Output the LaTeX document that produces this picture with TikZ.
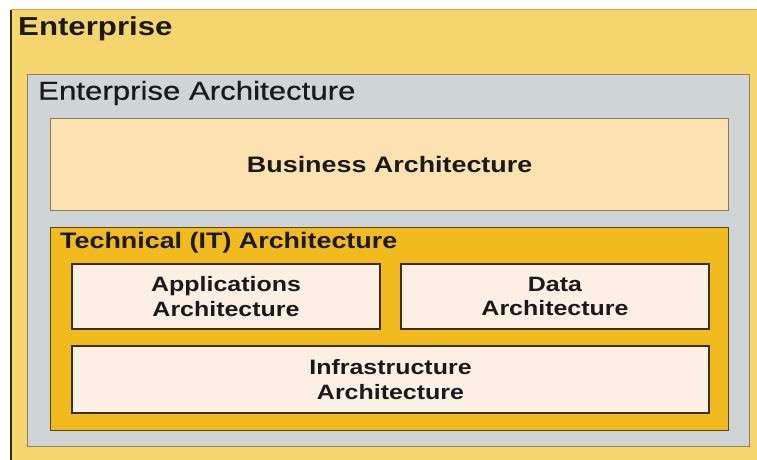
\documentclass[tikz,border=0pt]{standalone}
\usepackage{fontspec}
\newfontfamily\arialw[FakeStretch=1.2]{Liberation Sans}
\newfontfamily\arialm[FakeStretch=1.2,FakeBold=0.6]{Liberation Sans}
\definecolor{entfill}{HTML}{F5D56E}
\definecolor{entedge}{HTML}{C9A94A}
\definecolor{entleft}{HTML}{3A2A10}
\definecolor{eafill}{HTML}{CFD4D7}
\definecolor{eaedge}{HTML}{8C8262}
\definecolor{busfill}{HTML}{FCE2B0}
\definecolor{busedge}{HTML}{8A7A50}
\definecolor{techfill}{HTML}{F1BA1E}
\definecolor{techedge}{HTML}{5A4518}
\definecolor{innerfill}{HTML}{FCEFE4}
\definecolor{inneredge}{HTML}{3E2E14}
\definecolor{txt}{HTML}{1A1A1A}
\tikzset{
  x=1pt, y=-1pt,
  area/.style={rectangle, inner sep=0pt, anchor=north west},
  eabox/.style={area, fill=eafill, draw=eaedge, line width=1.2pt},
  busbox/.style={area, fill=busfill, draw=busedge, line width=1.3pt, font=\arialw\bfseries\fontsize{22.4}{26}\selectfont, text=txt},
  techbox/.style={area, fill=techfill, draw=techedge, line width=1.3pt},
  innerbox/.style={area, fill=innerfill, draw=inneredge, line width=2pt, align=center, font=\arialw\bfseries\fontsize{20.8}{24.5}\selectfont, text=txt},
  title/.style={anchor=west, inner sep=0pt, text=txt},
}
\begin{document}
\begin{tikzpicture}
\useasboundingbox (0,0) rectangle (757,460);
\fill[white] (0,0) rectangle (757,460);
% Enterprise
\node[area, fill=entfill, minimum width=749pt, minimum height=453pt] (ent) at (11,10) {};
\draw[entedge, line width=1pt] (ent.north west) -- (ent.north east);
\draw[entleft, line width=2pt] (ent.north west) -- (ent.south west);
\node[title, font=\arialw\bfseries\fontsize{26}{30}\selectfont] (enttitle) at (18,29) {Enterprise};
% Enterprise Architecture
\node[eabox, minimum width=722pt, minimum height=372pt] (ea) at (27,74) {};
\node[title, font=\arialm\fontsize{26}{30}\selectfont] (eatitle) at (38,93) {Enterprise Architecture};
% Business Architecture
\node[busbox, minimum width=678pt, minimum height=92pt] (bus) at (50,118) {Business Architecture};
% Technical
\node[techbox, minimum width=678pt, minimum height=203pt] (tech) at (50,227) {};
\node[title, font=\arialw\bfseries\fontsize{22.4}{26}\selectfont] (techtitle) at (60,243) {Technical (IT) Architecture};
% Inner boxes
\node[innerbox, minimum width=308pt, minimum height=65pt] (app) at (71,263) {Applications\\Architecture};
\node[innerbox, minimum width=308pt, minimum height=65pt] (data) at (400,263) {Data\\Architecture};
\node[innerbox, minimum width=637pt, minimum height=67pt] (infra) at (71,345) {Infrastructure\\Architecture};
\end{tikzpicture}
\end{document}
